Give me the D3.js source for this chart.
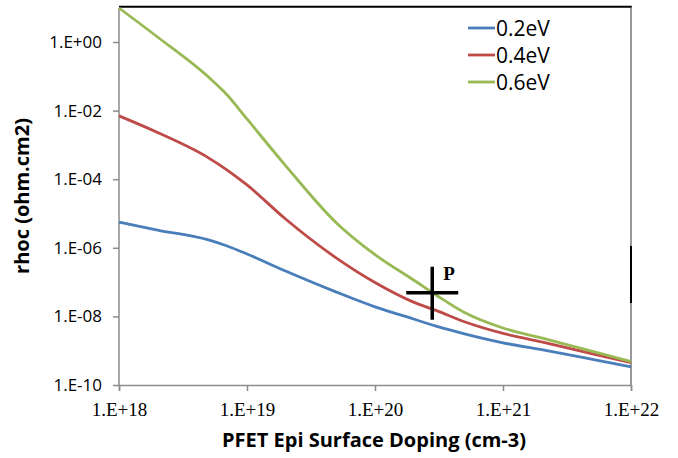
<!DOCTYPE html>
<html>
<head>
<meta charset="utf-8">
<script src="https://cdn.jsdelivr.net/npm/d3@7"></script>
<style>
  body { margin: 0; background: #fff; }
  svg { display: block; }
</style>
</head>
<body>
<script>
// doping values (cm-3) shared by the three curves
const doping = [1e18, 2e18, 5e18, 7e18, 1e19, 2e19, 5e19, 1e20, 2e20, 3e20, 5e20, 1e21, 2e21, 5e21, 1e22];

const rho02 = [5.6e-6, 3.3e-6, 1.7e-6, 1.13e-6, 6.6e-7, 2.1e-7, 5.1e-8, 1.9e-8, 8.4e-9, 5.2e-9, 3.1e-9, 1.7e-9, 1.07e-9, 5.6e-10, 3.4e-10];
const rho04 = [7.0e-3, 2.3e-3, 4.2e-4, 1.85e-4, 6.8e-5, 6.9e-6, 5.0e-7, 9.7e-8, 2.6e-8, 1.5e-8, 7.0e-9, 3.2e-9, 1.8e-9, 8.1e-10, 4.5e-10];
const rho06 = [9.8, 1.4, 9.5e-2, 2.85e-2, 5.7e-3, 2.5e-4, 5.3e-6, 6.3e-7, 1.15e-7, 4.2e-8, 1.3e-8, 4.6e-9, 2.35e-9, 9.6e-10, 4.8e-10];

const seriesNames = ['0.2eV', '0.4eV', '0.6eV'];
const seriesColors = ['#4a7ebb', '#be4b48', '#98b954'];

const xTicks = [1e18, 1e19, 1e20, 1e21, 1e22];
const xTickLabels = ['1.E+18', '1.E+19', '1.E+20', '1.E+21', '1.E+22'];
const yTicks = [1, 1e-2, 1e-4, 1e-6, 1e-8, 1e-10];
const yTickLabels = ['1.E+00', '1.E-02', '1.E-04', '1.E-06', '1.E-08', '1.E-10'];

const pointP = { x: 2.8e20, y: 4.9e-8, label: 'P' };

const W = 678, H = 458;
const plot = { left: 119, right: 631, top: 7.7, bottom: 385 };

const svg = d3.select('body').append('svg')
    .attr('width', W).attr('height', H);

const x = d3.scaleLog().domain([1e18, 1e22]).range([plot.left, plot.right]);
const y = d3.scaleLog().domain([1e-10, 10]).range([plot.bottom, plot.top]);

// frame: gray axes, black top edge
const axisGray = '#8c8c8c';
svg.append('line').attr('x1', plot.left).attr('x2', plot.left).attr('y1', plot.top).attr('y2', plot.bottom)
    .attr('stroke', axisGray).attr('stroke-width', 1.5);
svg.append('line').attr('x1', plot.right).attr('x2', plot.right).attr('y1', plot.top).attr('y2', plot.bottom)
    .attr('stroke', '#777').attr('stroke-width', 1.5);
svg.append('line').attr('x1', plot.left).attr('x2', plot.right + 0.75).attr('y1', plot.top - 1).attr('y2', plot.top - 1)
    .attr('stroke', '#000').attr('stroke-width', 2);
svg.append('line').attr('x1', plot.right).attr('x2', plot.right).attr('y1', 246).attr('y2', 303)
    .attr('stroke', '#000').attr('stroke-width', 2);

// x axis
const xAxis = d3.axisBottom(x).tickValues(xTicks).tickSize(6)
    .tickFormat((d, i) => xTickLabels[i]);
const gx = svg.append('g').attr('transform', `translate(0,${plot.bottom})`).call(xAxis);
gx.select('.domain').attr('stroke', axisGray).attr('stroke-width', 1.5);
gx.selectAll('.tick line').attr('stroke', axisGray).attr('stroke-width', 1.5);
gx.selectAll('.tick text')
    .attr('y', 18)
    .style('font-family', '"Liberation Serif", "DejaVu Serif", serif')
    .style('font-size', '19px')
    .attr('fill', '#000');

// y axis
const yAxis = d3.axisLeft(y).tickValues(yTicks).tickSize(6)
    .tickFormat((d, i) => yTickLabels[i]);
const gy = svg.append('g').attr('transform', `translate(${plot.left},0)`).call(yAxis);
gy.select('.domain').remove();
gy.selectAll('.tick line').attr('stroke', axisGray).attr('stroke-width', 1.5);
gy.selectAll('.tick text')
    .attr('x', -17)
    .style('font-family', '"Open Sans", "Noto Sans", sans-serif')
    .style('font-size', '17px')
    .attr('fill', '#000');

// curves
const allSeries = [rho02, rho04, rho06];
const line = d3.line()
    .x(d => x(d[0]))
    .y(d => y(d[1]))
    .curve(d3.curveMonotoneX);

allSeries.forEach((vals, i) => {
  svg.append('path')
      .datum(doping.map((dv, j) => [dv, vals[j]]))
      .attr('fill', 'none')
      .attr('stroke', seriesColors[i])
      .attr('stroke-width', 2.8)
      .attr('stroke-linejoin', 'round')
      .attr('d', line);
});

// point P cross
const px = x(pointP.x), py = y(pointP.y);
svg.append('line').attr('x1', px).attr('x2', px).attr('y1', py - 26).attr('y2', py + 27)
    .attr('stroke', '#000').attr('stroke-width', 3.5);
svg.append('line').attr('x1', px - 26).attr('x2', px + 26).attr('y1', py).attr('y2', py)
    .attr('stroke', '#000').attr('stroke-width', 3.5);
svg.append('text')
    .attr('x', px + 11).attr('y', py - 13)
    .style('font-family', '"Liberation Serif", "DejaVu Serif", serif')
    .style('font-weight', 'bold')
    .style('font-size', '19px')
    .text(pointP.label);

// legend
const legend = svg.append('g').attr('transform', 'translate(468,28)');
seriesNames.forEach((name, i) => {
  const g = legend.append('g').attr('transform', `translate(0,${i * 27})`);
  g.append('line').attr('x1', 0).attr('x2', 27).attr('y1', 0).attr('y2', 0)
      .attr('stroke', seriesColors[i]).attr('stroke-width', 2.8);
  g.append('text').attr('x', 28).attr('y', 7.5)
      .style('font-family', '"Open Sans", "Noto Sans", sans-serif')
      .style('font-size', '21px')
      .text(name);
});

// axis titles
svg.append('text')
    .attr('x', 374).attr('y', 447)
    .attr('text-anchor', 'middle')
    .style('font-family', '"Open Sans", "Noto Sans", sans-serif')
    .style('font-weight', 'bold')
    .style('font-size', '20px')
    .text('PFET Epi Surface Doping (cm-3)');

svg.append('text')
    .attr('transform', 'translate(29,196) rotate(-90)')
    .attr('text-anchor', 'middle')
    .style('font-family', '"Open Sans", "Noto Sans", sans-serif')
    .style('font-weight', 'bold')
    .style('font-size', '20px')
    .text('rhoc (ohm.cm2)');
</script>
</body>
</html>
